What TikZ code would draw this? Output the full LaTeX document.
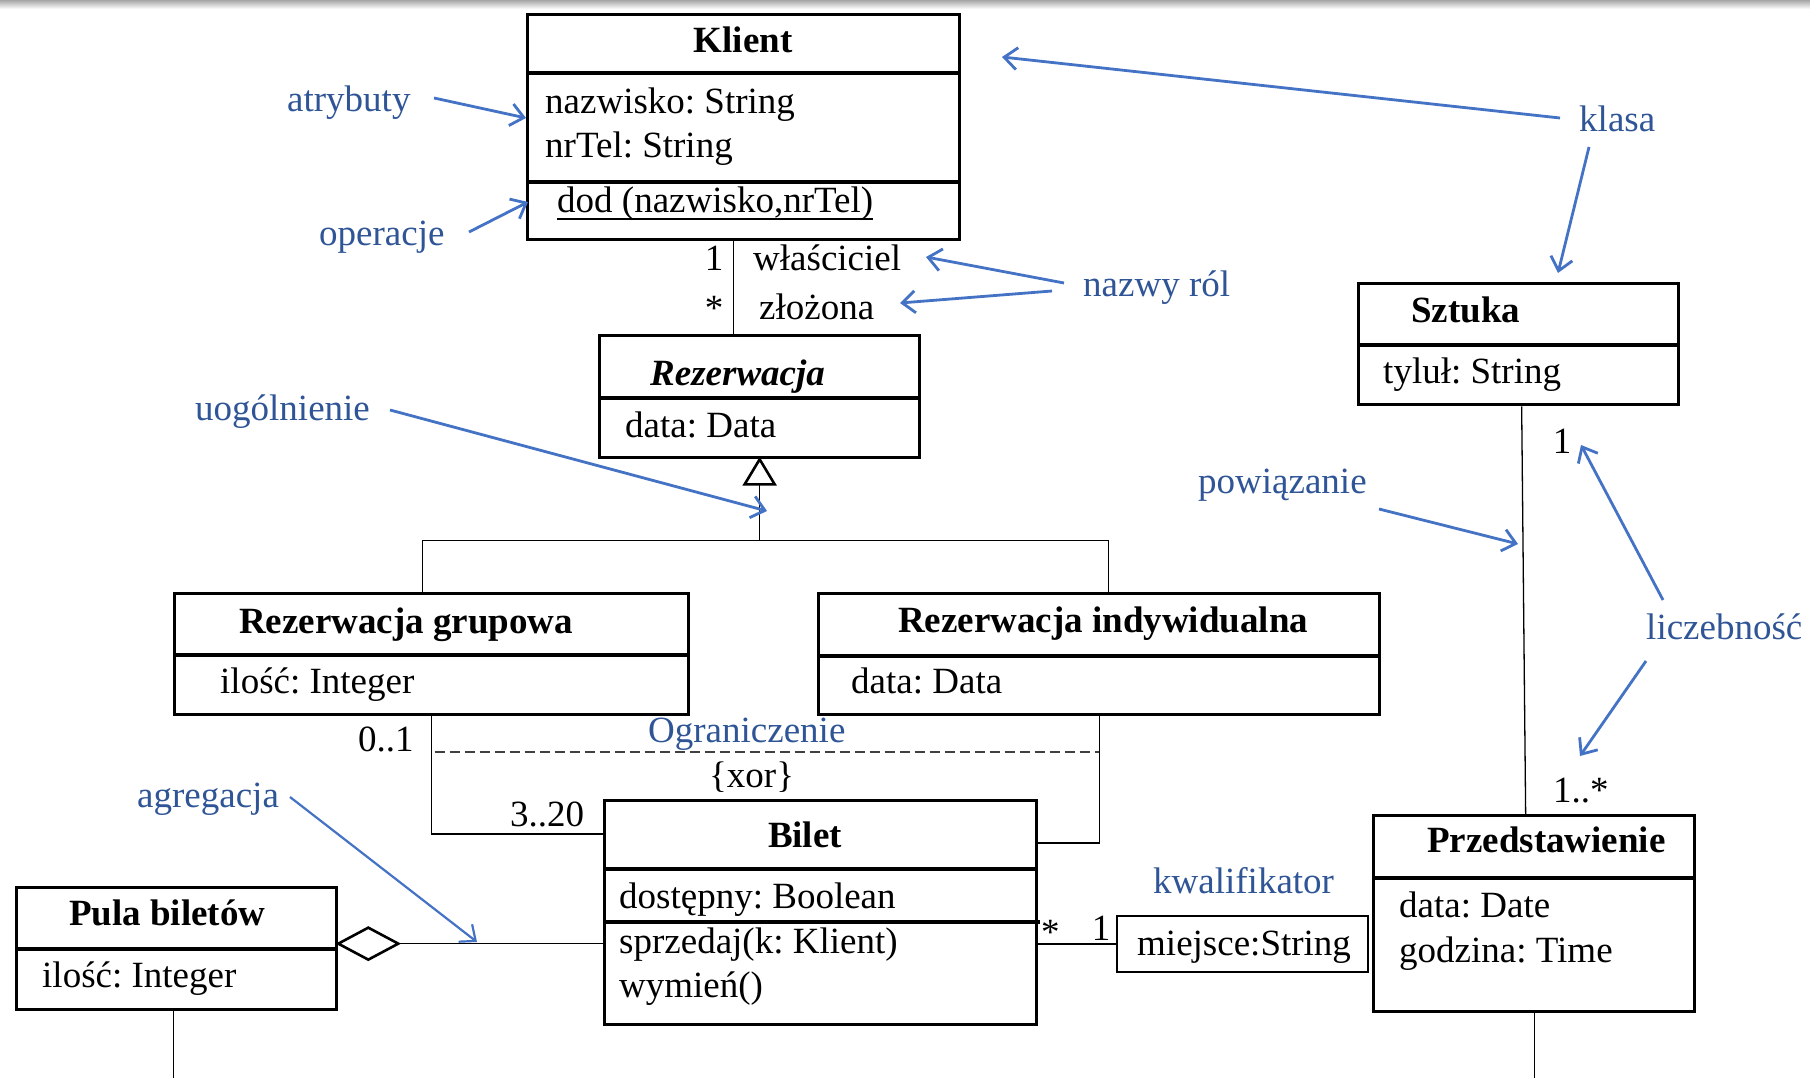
\documentclass[tikz,border=0pt]{standalone}
\usepackage{fontspec}
\setmainfont{Liberation Serif}
\usetikzlibrary{arrows.meta,calc}
\definecolor{lblue}{HTML}{2F5597}
\definecolor{ablue}{HTML}{4472C4}
\frenchspacing
\tikzset{
  box/.style={draw, line width=3.3pt, inner sep=0pt, anchor=north west},
  qbox/.style={draw, line width=2.2pt, inner sep=0pt, anchor=north west},
  sepline/.style={line width=3.3pt},
  txt/.style={inner sep=0pt, anchor=base west, font=\fontsize{37}{44}\selectfont\frenchspacing},
  ctxt/.style={txt, anchor=base},
  ttl/.style={txt, font=\fontsize{37}{44}\selectfont\bfseries\frenchspacing},
  cttl/.style={ttl, anchor=base},
  lbl/.style={txt, text=lblue},
  conn/.style={line width=1.3pt},
  dashconn/.style={line width=1.8pt, draw=black!75, dash pattern=on 10pt off 5pt},
  callout/.style={draw=ablue, line width=2.8pt, -{Straight Barb[length=13pt,width=22pt]}},
  tipshape/.style={line width=2.6pt, fill=white, line join=miter},
}
\begin{document}
\begin{tikzpicture}[x=1pt,y=-1pt]
\useasboundingbox (0,0) rectangle (1810,1078);
\fill[white] (0,0) rectangle (1810,1078);
\shade[top color=black!35, bottom color=white] (0,0) rectangle (1810,9);

% ---------- class boxes ----------
\node[box, minimum width=432pt, minimum height=225pt] (klient) at (526,13) {};
\draw[sepline] (526,73) -- (958,73);
\draw[sepline] (526,182) -- (958,182);
\node[cttl] (klientT) at (743,53) {Klient};
\node[txt] (k1) at (545,114) {nazwisko: String};
\node[txt] (k2) at (545,158) {nrTel: String};
\node[txt] (k3) at (557,213) {dod (nazwisko,nrTel)};
\draw[line width=1.6pt] ([yshift=-6pt]k3.base west) -- ([yshift=-6pt]k3.base east);

\node[box, minimum width=320pt, minimum height=122pt] (rez) at (598,334) {};
\draw[sepline] (598,398) -- (918,398);
\node[txt, font=\fontsize{37}{44}\selectfont\bfseries\itshape] (rezT) at (650,385) {Rezerwacja};
\node[txt] (r1) at (625,437) {data: Data};

\node[box, minimum width=320pt, minimum height=121pt] (sztuka) at (1357,282) {};
\draw[sepline] (1357,345) -- (1677,345);
\node[ttl] (sztukaT) at (1411,322) {Sztuka};
\node[txt] (s1) at (1383,383) {tyluł: String};

\node[box, minimum width=514pt, minimum height=121pt] (rg) at (173,592) {};
\draw[sepline] (173,655) -- (687,655);
\node[ttl] (rgT) at (239,633) {Rezerwacja grupowa};
\node[txt] (rg1) at (220,693) {ilość: Integer};

\node[box, minimum width=561pt, minimum height=121pt] (ri) at (817,592) {};
\draw[sepline] (817,656) -- (1378,656);
\node[ttl] (riT) at (898,632) {Rezerwacja indywidualna};
\node[txt] (ri1) at (851,693) {data: Data};

\node[box, minimum width=432pt, minimum height=224pt] (bilet) at (603,799) {};
\draw[sepline] (603,869) -- (1035,869);
\draw[sepline] (603,922) -- (1040,922);
\node[cttl] (biletT) at (805,847) {Bilet};
\node[txt] (b1) at (619,908) {dostępny: Boolean};
\node[txt] (b2) at (619,953) {sprzedaj(k: Klient)};
\node[txt] (b3) at (619,997) {wymień()};

\node[box, minimum width=320pt, minimum height=122pt] (pula) at (15,886) {};
\draw[sepline] (15,949) -- (335,949);
\node[ttl] (pulaT) at (69,925) {Pula biletów};
\node[txt] (p1) at (42,987) {ilość: Integer};

\node[box, minimum width=321pt, minimum height=196pt] (prz) at (1372,814) {};
\draw[sepline] (1372,878) -- (1693,878);
\node[ttl] (przT) at (1427,852) {Przedstawienie};
\node[txt] (pr1) at (1399,917) {data: Date};
\node[txt] (pr2) at (1399,962) {godzina: Time};

\node[qbox, minimum width=251pt, minimum height=56pt] (q) at (1116,915) {};
\node[txt] (q1) at (1137,955) {miejsce:String};

% ---------- connectors ----------
\draw[conn] ([xshift=-10pt]klient.south) -- ([xshift=-10pt]klient.south |- rez.north);
\node[ctxt] (m1) at (714,270) {1};
\node[ctxt] (m2) at (714,320) {*};
\node[txt] (role1) at (753,270) {właściciel};
\node[txt] (role2) at (759,319) {złożona};

% generalization
\coordinate (gen) at ([yshift=-81pt]rez.south);
\draw[conn] (gen) -- ([yshift=-25pt]rez.south);
\draw[conn] ([xshift=-9pt]rg.north) |- (gen) -| ([xshift=9.5pt]ri.north);
\draw[tipshape] (rez.south) -- ++(15,25) -- ++(-30,0) -- cycle;

% rg / ri to bilet
\draw[conn] (rg.south) |- ([yshift=-35pt]bilet.north west);
\draw[conn] (ri.south) |- ([yshift=-44pt]bilet.north east);
\draw[dashconn] ([xshift=3pt,yshift=-36pt]rg.south) -- ([yshift=-36pt]ri.south);
\node[txt] (mult01) at (358,751) {0..1};
\node[txt] (xor) at (709,787) {\{xor\}};
\node[txt] (mult320) at (510,826) {3..20};

% aggregation
\coordinate (dmd) at ([yshift=5pt]pula.east);
\coordinate (dmdR) at ([xshift=60pt]dmd);
\draw[tipshape] (dmd) -- ++(30,-16) -- ++(30,16) -- ++(-30,16) -- cycle;
\draw[conn] (dmdR) -- (dmdR -| bilet.west);

% qualifier
\draw[conn] (q.west -| bilet.east) -- (q.west);
\node[txt] (mstar) at (1041,944) {*};
\node[ctxt] (mone) at (1101,940) {1};

% Sztuka - Przedstawienie
\draw[conn] ([xshift=3pt]sztuka.south) -- ([xshift=-8.5pt]prz.north);
\node[ctxt] (sone) at (1562,453) {1};
\node[txt] (pmany) at (1553,802) {1..*};

% lines leaving the picture
\draw[conn] (prz.south) -- ++(0,68);
\draw[conn] ([xshift=-3pt]pula.south) -- ++(0,70);

% ---------- annotation labels ----------
\node[lbl] (lAtr) at (287,112) {atrybuty};
\node[lbl] (lOp) at (319,245) {operacje};
\node[lbl] (lKl) at (1579,132) {klasa};
\node[lbl] (lNr) at (1083,296) {nazwy ról};
\node[lbl] (lUog) at (195,420) {uogólnienie};
\node[lbl] (lPow) at (1198,493) {powiązanie};
\node[lbl] (lLicz) at (1646,639) {liczebność};
\node[lbl] (lOgr) at (648,742) {Ograniczenie};
\node[lbl] (lAgr) at (137,807) {agregacja};
\node[lbl] (lKw) at (1153,893) {kwalifikator};

% callout arrows
\coordinate (atrS) at (434,98);   \coordinate (atrE) at (526,118);
\coordinate (opS) at (469,232);   \coordinate (opE) at (528,202);
\coordinate (klS1) at (1560,118); \coordinate (klE1) at (1002,57);
\coordinate (klS2) at (1589,147); \coordinate (klE2) at (1558,273);
\coordinate (nrS1) at (1064,283); \coordinate (nrE1) at (926,257);
\coordinate (nrS2) at (1052,291); \coordinate (nrE2) at (900,303);
\coordinate (uogS) at (390,410);  \coordinate (uogE) at (767,511);
\coordinate (powS) at (1379,509); \coordinate (powE) at (1518,544);
\coordinate (liS1) at (1663,600); \coordinate (liE1) at (1581,445);
\coordinate (liS2) at (1646,661); \coordinate (liE2) at (1580,756);
\coordinate (agS) at (290,797);   \coordinate (agE) at (477,942);

\draw[callout] (atrS) -- (atrE);
\draw[callout] (opS) -- (opE);
\draw[callout] (klS1) -- (klE1);
\draw[callout] (klS2) -- (klE2);
\draw[callout] (nrS1) -- (nrE1);
\draw[callout] (nrS2) -- (nrE2);
\draw[callout] (uogS) -- (uogE);
\draw[callout] (powS) -- (powE);
\draw[callout] (liS1) -- (liE1);
\draw[callout] (liS2) -- (liE2);
\draw[callout, line width=2.2pt] (agS) -- (agE);
\end{tikzpicture}
\end{document}
